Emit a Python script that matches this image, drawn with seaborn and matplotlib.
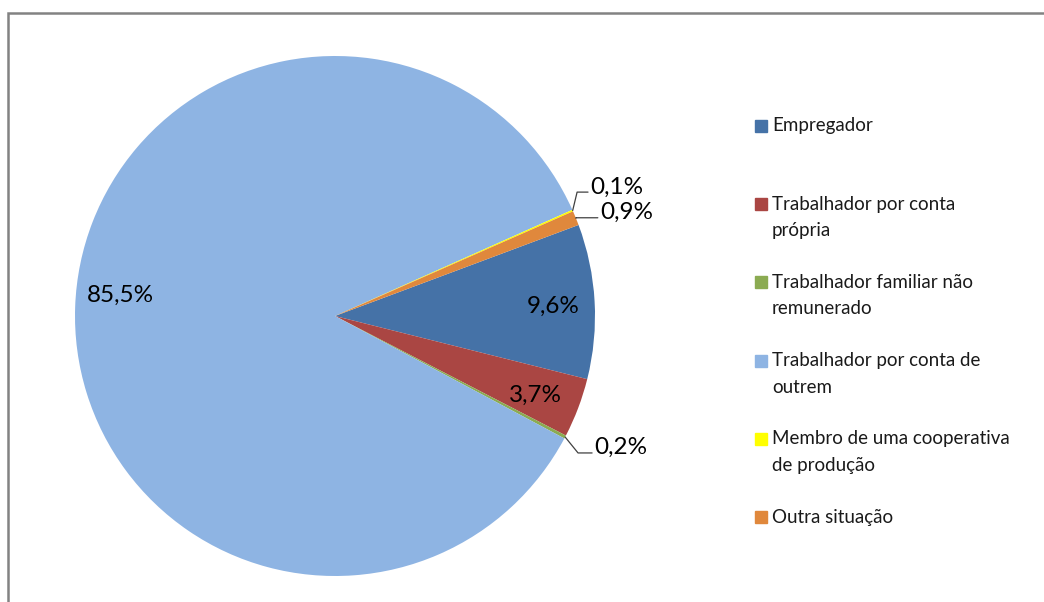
import numpy as np
import matplotlib
matplotlib.use("Agg")
import matplotlib.pyplot as plt
import seaborn as sns
from matplotlib.patches import Rectangle

categories = ["Empregador",
              "Trabalhador por conta\nprópria",
              "Trabalhador familiar não\nremunerado",
              "Trabalhador por conta de\noutrem",
              "Membro de uma cooperativa\nde produção",
              "Outra situação"]
values = [9.6, 3.7, 0.2, 85.5, 0.1, 0.9]
colors = ["#4572A7", "#AA4643", "#8BAB52", "#8EB4E3", "#FFFF00", "#E0883C"]

sns.set_theme(style="white")
plt.rcParams["font.family"] = ["Lato", "DejaVu Sans"]

fig = plt.figure(figsize=(10.44, 6.02), dpi=100)
W, H = 1044, 602
cx, cy, R = 335, 316, 260

ax = fig.add_axes([(cx - R) / W, (H - cy - R) / H, 2 * R / W, 2 * R / H])
wedges, _ = ax.pie(values, colors=colors, startangle=20.5, counterclock=False,
                   radius=1, wedgeprops=dict(linewidth=0))
ax.set_xlim(-1, 1)
ax.set_ylim(-1, 1)
ax.set_aspect("equal")
ax.axis("off")

def fmt(v):
    return f"{v:.1f}%".replace(".", ",")

# inside labels: (distance, angle shift)
inside = {0: (0.84, -0.8), 1: (0.83, -0.8), 3: (0.83, -3.6)}
# outside labels: elbow (r, angle), horizontal tail length
outside = {2: (1.073, -29.4, 0.054), 4: (1.046, 27.1, 0.042), 5: (1.0, 22.2, 0.085)}

for i, w in enumerate(wedges):
    mid = np.deg2rad((w.theta1 + w.theta2) / 2)
    if i in inside:
        r, da = inside[i]
        a = mid + np.deg2rad(da)
        ax.text(r * np.cos(a), r * np.sin(a), fmt(values[i]), ha="center", va="center",
                fontsize=17.5, color="black")
    else:
        r, ang, tail = outside[i]
        a = np.deg2rad(ang)
        ex, ey = np.cos(mid), np.sin(mid)
        bx, by = r * np.cos(a), r * np.sin(a)
        ax.plot([ex, bx, bx + tail], [ey, by, by], color="#404040", lw=0.9,
                clip_on=False)
        ax.text(bx + tail + 0.01, by - 0.005, fmt(values[i]), ha="left", va="baseline",
                fontsize=17.5, color="black")

# legend
lx, ly0, step, lh = 755, 126, 78.2, 26.5
for i, (lab, c) in enumerate(zip(categories, colors)):
    y = ly0 + i * step
    fig.patches.append(Rectangle((lx / W, (H - y - 6) / H), 12 / W, 12 / H,
                                 transform=fig.transFigure, color=c))
    for k, line in enumerate(lab.split("\n")):
        fig.text((lx + 17) / W, (H - y - k * lh) / H, line, ha="left", va="center",
                 fontsize=13.5, color="#1a1a1a")

# chart area border
fig.patches.append(Rectangle((8 / W, -0.1), 1.2, (H - 13) / H + 0.1,
                             transform=fig.transFigure, fill=False,
                             edgecolor="#828282", lw=1.8))

fig.savefig("out.png", dpi=100, facecolor="white")
